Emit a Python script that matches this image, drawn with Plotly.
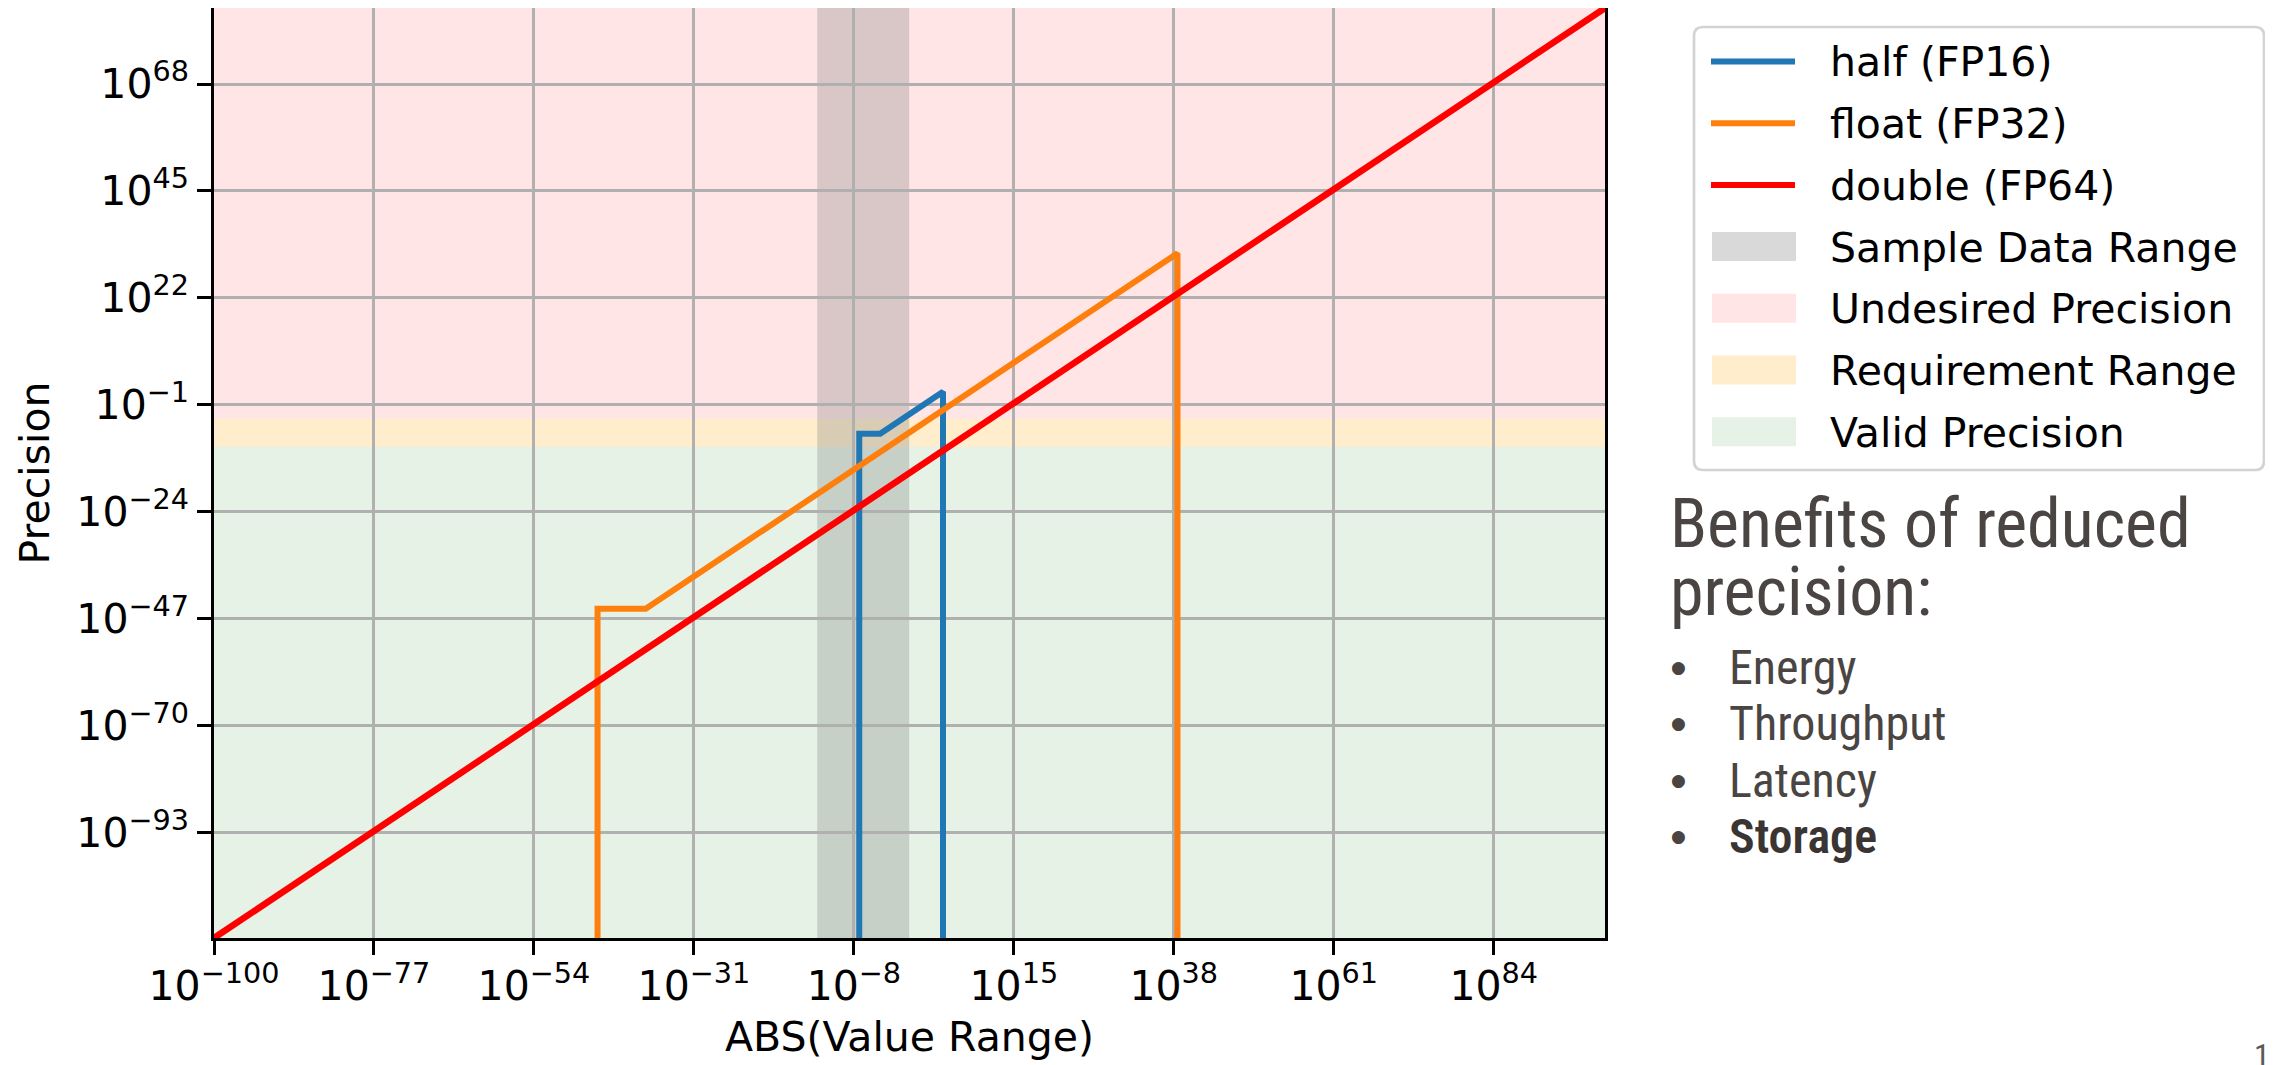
import plotly.graph_objects as go

# ---------------- data ----------------
series_names = ["half (FP16)", "float (FP32)", "double (FP64)"]
series_colors = ["#1f77b4", "#ff7f0e", "#ff0000"]
series_widths = [6, 6, 6.5]

half_x = [5.96e-8, 5.96e-8, 6.10e-5, 6.55e4, 6.55e4]
half_y = [1e-120, 5.96e-8, 5.96e-8, 64.0, 1e-120]

float_x = [1.40e-45, 1.40e-45, 1.18e-38, 3.40e38, 3.40e38]
float_y = [1e-120, 1.40e-45, 1.40e-45, 4.06e31, 1e-120]

double_x = [1e-100, 1e100]
double_y = [2.22e-116, 2.22e84]

band_names = ["Sample Data Range", "Undesired Precision", "Requirement Range", "Valid Precision"]
band_colors = ["rgba(128,128,128,0.3)", "rgba(255,0,0,0.1)", "rgba(255,165,0,0.2)", "rgba(0,128,0,0.1)"]
sample_x_range = [5.4e-14, 0.9]
undesired_y_range = [1e-4, 2.22e84]
requirement_y_range = [1e-10, 1e-4]
valid_y_range = [2.22e-116, 1e-10]

x_tick_exps = [-100, -77, -54, -31, -8, 15, 38, 61, 84]
y_tick_exps = [-93, -70, -47, -24, -1, 22, 45, 68]
x_range_log = [-100, 100]
y_range_log = [-115.654, 84.346]

benefit_title = ["Benefits of reduced", "precision:"]
benefit_items = ["Energy", "Throughput", "Latency", "Storage"]
benefit_colors = ["#4a4543", "#4a4543", "#4a4543", "#3a3533"]
benefit_weights = [400, 400, 400, 600]

# ---------------- layout geometry ----------------
OFF = 8  # page body margin
W, H = 2273 - OFF, 1065 - OFF
L, R, T, B = 206, 668, 0, 127
PW, PH = W - L - R, H - T - B


def px(xs):
    """screen x pixel -> paper coordinate"""
    return (xs - OFF - L) / PW


def py(ys):
    """screen y pixel -> paper coordinate"""
    return (H - B - (ys - OFF)) / PH


def sup(e):
    s = str(e).replace("-", "\u2212")
    return "10<sup>" + s + "</sup>"


FONT = "DejaVu Sans"
SIDE_FONT = "Liberation Sans Narrow, Arial Narrow, Roboto Condensed, Roboto, sans-serif"

fig = go.Figure()

for name, xs, ys, c, w in zip(series_names, [half_x, float_x, double_x],
                              [half_y, float_y, double_y], series_colors, series_widths):
    fig.add_trace(go.Scatter(x=xs, y=ys, mode="lines", name=name,
                             line=dict(color=c, width=w), showlegend=False,
                             hoverinfo="skip"))

shapes = []
# horizontal precision bands
for rng, col in zip([undesired_y_range, requirement_y_range, valid_y_range], band_colors[1:]):
    shapes.append(dict(type="rect", xref="paper", x0=0, x1=1, yref="y",
                       y0=rng[0], y1=rng[1], fillcolor=col, line=dict(width=0),
                       layer="below"))
# sample data range (vertical)
shapes.append(dict(type="rect", xref="x", x0=sample_x_range[0], x1=sample_x_range[1],
                   yref="paper", y0=0, y1=1, fillcolor=band_colors[0],
                   line=dict(width=0), layer="below"))

# ---------------- legend box (drawn) ----------------
lx0, lx1, ly0, ly1 = 1694, 2264, 27, 470
r = 9
rx, ry = r / PW, r / PH
X0, X1, YT, YB = px(lx0), px(lx1), py(ly0), py(ly1)
path = (f"M {X0+rx},{YT} L {X1-rx},{YT} Q {X1},{YT} {X1},{YT-ry} "
        f"L {X1},{YB+ry} Q {X1},{YB} {X1-rx},{YB} L {X0+rx},{YB} "
        f"Q {X0},{YB} {X0},{YB+ry} L {X0},{YT-ry} Q {X0},{YT} {X0+rx},{YT} Z")
shapes.append(dict(type="path", xref="paper", yref="paper", path=path,
                   fillcolor="white", line=dict(color="#d3d3d3", width=2.7),
                   layer="above"))

annotations = []
entry_y0, entry_dy = 61.5, 61.7
legend_labels = series_names + band_names
for i, lab in enumerate(legend_labels):
    cy = entry_y0 + i * entry_dy
    if i < len(series_names):
        shapes.append(dict(type="line", xref="paper", yref="paper",
                           x0=px(1711), x1=px(1795), y0=py(cy), y1=py(cy),
                           line=dict(color=series_colors[i], width=6), layer="above"))
    else:
        shapes.append(dict(type="rect", xref="paper", yref="paper",
                           x0=px(1712), x1=px(1796), y0=py(cy + 14.5), y1=py(cy - 14.5),
                           fillcolor=band_colors[i - len(series_names)],
                           line=dict(width=0), layer="above"))
    annotations.append(dict(xref="paper", yref="paper", x=px(1828), y=py(cy + 1),
                            xanchor="left", yanchor="middle", text=lab, showarrow=False,
                            font=dict(family=FONT, size=41, color="black")))

# ---------------- side text ----------------
title_fs = 68
for t, base in zip(benefit_title, [548, 616]):
    annotations.append(dict(xref="paper", yref="paper", x=px(1668), y=py(base - 0.35 * title_fs),
                            xanchor="left", yanchor="middle", text=t, showarrow=False,
                            font=dict(family=SIDE_FONT, size=title_fs, color="#4a4543")))
item_fs = 48
for t, base, c, wt in zip(benefit_items, [684, 740, 797, 853], benefit_colors, benefit_weights):
    annotations.append(dict(xref="paper", yref="paper", x=px(1678), y=py(base - 17),
                            xanchor="center", yanchor="middle", text="\u25cf", showarrow=False,
                            font=dict(family="DejaVu Sans", size=17, color="#4a4543")))
    annotations.append(dict(xref="paper", yref="paper", x=px(1727), y=py(base - 0.35 * item_fs),
                            xanchor="left", yanchor="middle", text=t, showarrow=False,
                            font=dict(family=SIDE_FONT, size=item_fs, color=c, weight=wt)))

annotations.append(dict(xref="paper", yref="paper", x=px(2252), y=py(1034),
                        xanchor="left", yanchor="top", text="1", showarrow=False,
                        font=dict(family=SIDE_FONT, size=32, color="#595959")))

axis_common = dict(type="log", showline=True, linecolor="black", linewidth=2.5, mirror=True,
                   ticks="outside", ticklen=14, tickwidth=2.5, tickcolor="black",
                   showgrid=True, gridcolor="#b0b0b0", gridwidth=2.7, zeroline=False,
                   tickfont=dict(family=FONT, size=41, color="black"))

fig.update_layout(
    width=W, height=H,
    margin=dict(l=L, r=R, t=T, b=B, autoexpand=False),
    paper_bgcolor="white", plot_bgcolor="white",
    showlegend=False,
    xaxis=dict(axis_common, range=x_range_log,
               tickvals=[10.0 ** e for e in x_tick_exps],
               ticktext=[sup(e) for e in x_tick_exps],
               ticklabelstandoff=-4,
               title=dict(text="ABS(Value Range)", standoff=14,
                          font=dict(family=FONT, size=41, color="black"))),
    yaxis=dict(axis_common, range=y_range_log,
               tickvals=[10.0 ** e for e in y_tick_exps],
               ticktext=[sup(e) for e in y_tick_exps],
               ticklabelstandoff=0,
               title=dict(text="Precision", standoff=14,
                          font=dict(family=FONT, size=41, color="black"))),
    shapes=shapes,
    annotations=annotations,
)

fig.write_html("out.html")
